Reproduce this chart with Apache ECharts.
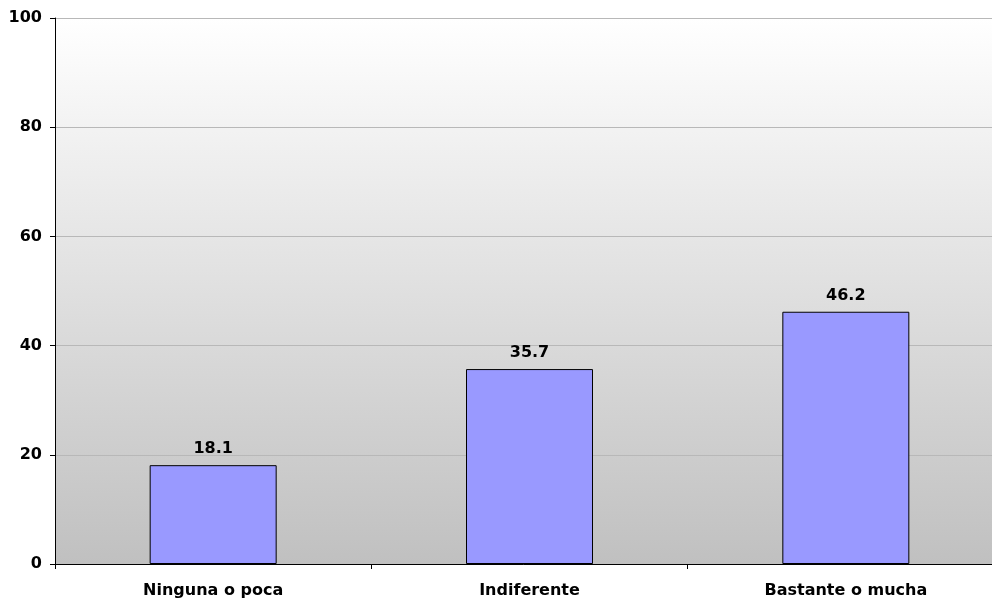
<!DOCTYPE html>
<html><head><meta charset="utf-8">
<script src="https://cdn.jsdelivr.net/npm/echarts@6/dist/echarts.min.js"></script>
<style>html,body{margin:0;padding:0;background:#fff}#c{width:992px;height:599px}</style>
</head><body><div id="c"></div>
<script>
var categories = ['Ninguna o poca', 'Indiferente', 'Bastante o mucha'];
var values = [18.1, 35.7, 46.2];
var yTicks = [0, 20, 40, 60, 80, 100];

var chart = echarts.init(document.getElementById('c'));
var font = 'DejaVu Sans';
var fs = 16;
chart.setOption({
  animation: false,
  grid: {
    left: 55, width: 949, top: 18, height: 546,
    outerBoundsMode: 'none', containLabel: false,
    show: true, borderWidth: 0,
    backgroundColor: new echarts.graphic.LinearGradient(0, 0, 0, 1, [
      {offset: 0, color: '#ffffff'},
      {offset: 1, color: '#c0c0c0'}
    ])
  },
  xAxis: {
    type: 'category', data: categories,
    axisLine: {lineStyle: {color: '#000', width: 1}},
    axisTick: {show: true, alignWithLabel: false, length: 5, lineStyle: {color: '#000'}},
    axisLabel: {color: '#000', fontFamily: font, fontWeight: 'bold', fontSize: fs, margin: 19}
  },
  yAxis: {
    type: 'value', min: 0, max: 100, interval: 20,
    axisLine: {show: true, lineStyle: {color: '#000', width: 1}},
    axisTick: {show: true, length: 5, lineStyle: {color: '#000'}},
    splitLine: {lineStyle: {color: '#b8b8b8', width: 1}},
    axisLabel: {color: '#000', fontFamily: font, fontWeight: 'bold', fontSize: fs, margin: 13,
      formatter: function (v) { return yTicks.indexOf(v) >= 0 ? String(v) : ''; }}
  },
  series: [{
    type: 'bar', data: values, barWidth: 127,
    itemStyle: {color: '#9999ff', borderColor: '#000', borderWidth: 1},
    label: {show: true, position: 'top', distance: 8, color: '#000', fontFamily: font, fontWeight: 'bold', fontSize: fs,
      formatter: function (p) { return p.value.toFixed(1); }}
  }]
});
</script></body></html>
